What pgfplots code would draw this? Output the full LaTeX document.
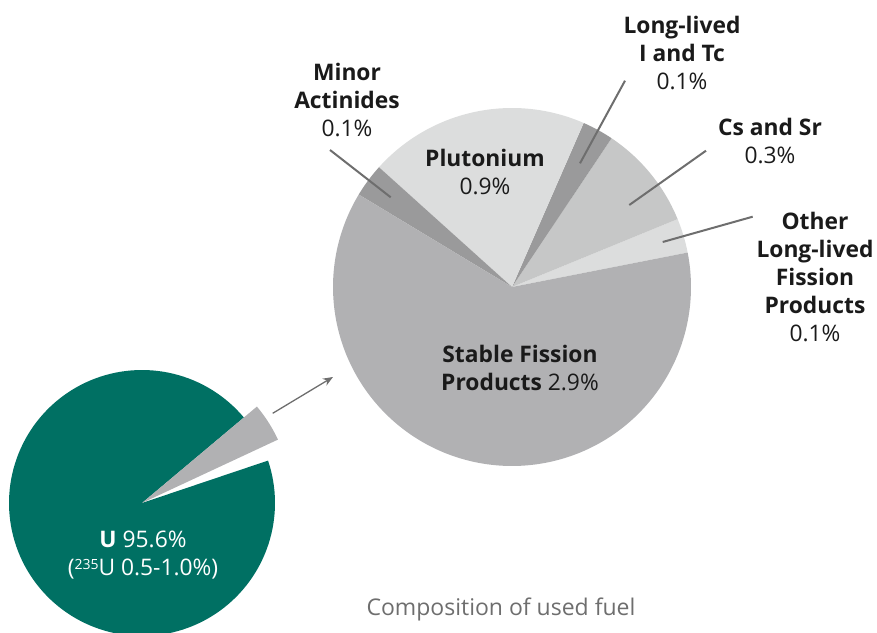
\documentclass[border=0pt]{standalone}
\usepackage{pgfplots}
\pgfplotsset{compat=1.18}
\usepackage{fontspec}
\setmainfont{Open Sans}
\usetikzlibrary{arrows.meta}
\definecolor{fuelgreen}{RGB}{0,112,99}
\definecolor{sfp}{RGB}{177,177,179}
\definecolor{dkg}{RGB}{154,154,155}
\definecolor{ltg}{RGB}{220,221,221}
\definecolor{csg}{RGB}{198,199,199}
\definecolor{leader}{RGB}{110,110,110}
\definecolor{txt}{RGB}{26,26,26}
\newcommand{\lbl}{\fontsize{22.8}{28}\selectfont}
\begin{document}
\begin{tikzpicture}
\begin{axis}[width=877pt,height=632pt,scale only axis,
  xmin=0,xmax=877,ymin=0,ymax=632,
  axis line style={draw=none},xtick=\empty,ytick=\empty,clip=true]
% small pie: uranium and the exploded remainder (angles in degrees)
\addplot[fill=fuelgreen,draw=none,domain=40:378.6,samples=150,variable=\t] ({142+133*cos(t)},{129+133*sin(t)}) -- (142,129) -- cycle;
\addplot[fill=sfp,draw=none,domain=25:40,samples=20,variable=\t] ({142+150*cos(t)},{129+150*sin(t)}) -- (142,129) -- cycle;
% big pie slices (start/end angles)
\addplot[fill=ltg,draw=none,domain=11.1:22.3,samples=15,variable=\t] ({512+179*cos(t)},{345+179*sin(t)}) -- (512,345) -- cycle;
\addplot[fill=csg,draw=none,domain=22.3:56.2,samples=30,variable=\t] ({512+179*cos(t)},{345+179*sin(t)}) -- (512,345) -- cycle;
\addplot[fill=dkg,draw=none,domain=56.2:66.4,samples=15,variable=\t] ({512+179*cos(t)},{345+179*sin(t)}) -- (512,345) -- cycle;
\addplot[fill=ltg,draw=none,domain=66.4:138,samples=50,variable=\t] ({512+179*cos(t)},{345+179*sin(t)}) -- (512,345) -- cycle;
\addplot[fill=dkg,draw=none,domain=138:148.9,samples=15,variable=\t] ({512+179*cos(t)},{345+179*sin(t)}) -- (512,345) -- cycle;
\addplot[fill=sfp,draw=none,domain=148.9:371.1,samples=150,variable=\t] ({512+179*cos(t)},{345+179*sin(t)}) -- (512,345) -- cycle;
% leader lines
\addplot[leader,line width=2pt] coordinates {(330,482) (390.7,434.7)};
\addplot[leader,line width=2pt] coordinates {(625,551.3) (580,468.7)};
\addplot[leader,line width=2pt] coordinates {(706,481.3) (629.3,427)};
\addplot[leader,line width=2pt] coordinates {(752.7,415.3) (662.7,390)};
% arrow
\addplot[leader,line width=1.3pt,-{Stealth[length=10pt,width=8pt]}] coordinates {(272.7,218.7) (333,255)};
% labels
\node[font=\lbl,align=center,text=txt] at (347,531.5) {\textbf{Minor}\\\textbf{Actinides}\\0.1\%};
\node[font=\lbl,align=center,text=txt] at (682,578.5) {\textbf{Long-lived}\\\textbf{I and Tc}\\0.1\%};
\node[font=\lbl,align=center,text=txt] at (770,491) {\textbf{Cs and Sr}\\0.3\%};
\node[font=\lbl,align=center,text=txt] at (815,355) {\textbf{Other}\\\textbf{Long-lived}\\\textbf{Fission}\\\textbf{Products}\\0.1\%};
\node[font=\lbl,align=center,text=txt] at (485,460) {\textbf{Plutonium}\\0.9\%};
\node[font=\lbl,align=center,text=txt] at (520,264) {\textbf{Stable Fission}\\\textbf{Products} 2.9\%};
\node[font=\lbl,align=center,text=white] at (143,77) {\textbf{U} 95.6\%\\(\raisebox{0.45ex}{\fontsize{14}{14}\selectfont 235}U 0.5-1.0\%)};
\node[font=\fontsize{23}{26}\selectfont,text=leader,anchor=base] at (501,17) {Composition of used fuel};
\end{axis}
\end{tikzpicture}
\end{document}
